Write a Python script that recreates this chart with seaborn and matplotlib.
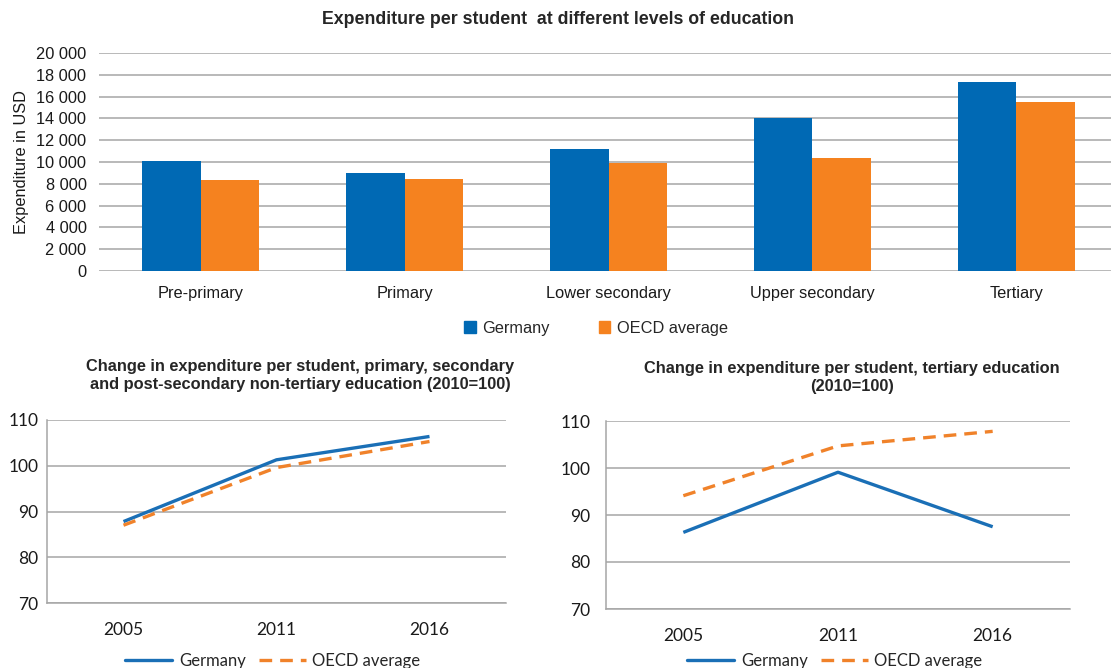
import numpy as np
import pandas as pd
import matplotlib
matplotlib.use("Agg")
import matplotlib.pyplot as plt
import seaborn as sns
from matplotlib.ticker import FuncFormatter, FixedLocator

# data
levels = ['Pre-primary', 'Primary', 'Lower secondary', 'Upper secondary', 'Tertiary']
germany_usd = [10100, 8970, 11150, 14010, 17370]
oecd_usd = [8350, 8450, 9950, 10340, 15500]

years = ['2005', '2011', '2016']
germany_school = [87.8, 101.3, 106.4]
oecd_school = [87.0, 99.6, 105.3]
germany_tertiary = [86.3, 99.1, 87.5]
oecd_tertiary = [94.1, 104.7, 107.8]

series_names = ['Germany', 'OECD average']
blue = '#0069B4'
orange = '#F5821F'
line_blue = '#1A6FB6'
line_orange = '#F0822A'
grid_col = '#A6A6A6'
txt = '#1a1a1a'

sns.set_style('white')
plt.rcParams['font.family'] = ['Liberation Sans', 'DejaVu Sans']

W, H = 1111, 668
fig = plt.figure(figsize=(W / 100, H / 100), dpi=100)


def px_axes(x0, x1, y0, y1):
    return fig.add_axes([x0 / W, 1 - y1 / H, (x1 - x0) / W, (y1 - y0) / H])


# ---- top bar chart
bars = pd.DataFrame({
    'level': levels * 2,
    'value': germany_usd + oecd_usd,
    'series': [series_names[0]] * len(levels) + [series_names[1]] * len(levels),
})

ax = px_axes(99, 1118, 53, 271)
sns.barplot(data=bars, x='level', y='value', hue='series', ax=ax,
            palette=[blue, orange], saturation=1, width=0.575, legend=False,
            linewidth=0)
ax.set_ylim(0, 20000)
ax.set_yticks(np.arange(0, 20001, 2000))
ax.yaxis.set_major_formatter(FuncFormatter(lambda v, p: f'{v:,.0f}'.replace(',', ' ')))
ax.grid(axis='y', color=grid_col, linewidth=1.1)
ax.set_axisbelow(True)
sns.despine(ax=ax, left=True, bottom=True)
ax.tick_params(axis='both', length=0, labelsize=11.8, colors=txt)
ax.tick_params(axis='y', pad=9)
ax.tick_params(axis='x', pad=11)
ax.set_xlabel('')
ax.set_ylabel('Expenditure in USD', fontsize=11.8, labelpad=5, color=txt)
fig.text(558 / W, 1 - 19 / H, 'Expenditure per student  at different levels of education',
         ha='center', va='center', fontsize=12.8, fontweight='bold')
handles = [plt.Rectangle((0, 0), 1, 1, color=blue), plt.Rectangle((0, 0), 1, 1, color=orange)]
fig.legend(handles, series_names, loc='center', bbox_to_anchor=(596 / W, 1 - 328 / H),
           ncol=2, frameon=False, fontsize=11.8, handlelength=0.7, handleheight=0.7,
           handletextpad=0.4, columnspacing=3.0)


# ---- bottom line charts
def line_panel(ax, germany, oecd, title, title_x, title_y, legend_x, ypad):
    df = pd.DataFrame({'pos': [0, 1, 2] * 2,
                       'value': germany + oecd,
                       'series': [series_names[0]] * 3 + [series_names[1]] * 3})
    sns.lineplot(data=df, x='pos', y='value', hue='series', style='series',
                 palette=[line_blue, line_orange], dashes=[(1, 0), (3.8, 2.4)],
                 linewidth=2.4, ax=ax, legend=False)
    ax.set_xlim(-0.5, 2.5)
    ax.set_ylim(70, 110)
    ax.set_yticks([70, 80, 90, 100, 110])
    ax.set_xticks([0, 1, 2])
    ax.set_xticklabels(years)
    ax.xaxis.set_minor_locator(FixedLocator([-0.5, 0.5, 1.5, 2.5]))
    ax.grid(axis='y', color=grid_col, linewidth=1.1)
    ax.set_axisbelow(True)
    for side in ['top', 'right']:
        ax.spines[side].set_visible(False)
    for side in ['left', 'bottom']:
        ax.spines[side].set_color(grid_col)
        ax.spines[side].set_linewidth(1.1)
    ax.tick_params(axis='x', which='major', length=0, pad=14)
    ax.tick_params(axis='x', which='minor', length=4.5, color=grid_col, width=1.1)
    ax.tick_params(axis='y', length=4, color=grid_col, width=1.1, pad=ypad)
    for lab in ax.get_xticklabels() + ax.get_yticklabels():
        lab.set_fontfamily(['Lato', 'DejaVu Sans'])
        lab.set_fontsize(12.5)
        lab.set_color(txt)
    ax.set_xlabel('')
    ax.set_ylabel('')
    fig.text(title_x / W, 1 - title_y / H, title, ha='center', va='center',
             fontsize=11.8, fontweight='bold', linespacing=1.25)
    hl = [plt.Line2D([], [], color=line_blue, lw=2.4),
          plt.Line2D([], [], color=line_orange, lw=2.4, dashes=(3.8, 2.4))]
    fig.legend(hl, series_names, loc='center', bbox_to_anchor=(legend_x / W, 1 - 661 / H),
               ncol=2, frameon=False, handlelength=2.8, handletextpad=0.4,
               columnspacing=0.8, prop={'family': ['Lato', 'DejaVu Sans'], 'size': 12})


ax_l = px_axes(47, 506, 420, 603)
line_panel(ax_l, germany_school, oecd_school,
           'Change in expenditure per student, primary, secondary\n'
           'and post-secondary non-tertiary education (2010=100)',
           300, 376, 273, 2)

ax_r = px_axes(606, 1070, 421, 609)
line_panel(ax_r, germany_tertiary, oecd_tertiary,
           'Change in expenditure per student, tertiary education\n(2010=100)',
           852, 378, 835, 7)

fig.savefig('out.png', dpi=100)
